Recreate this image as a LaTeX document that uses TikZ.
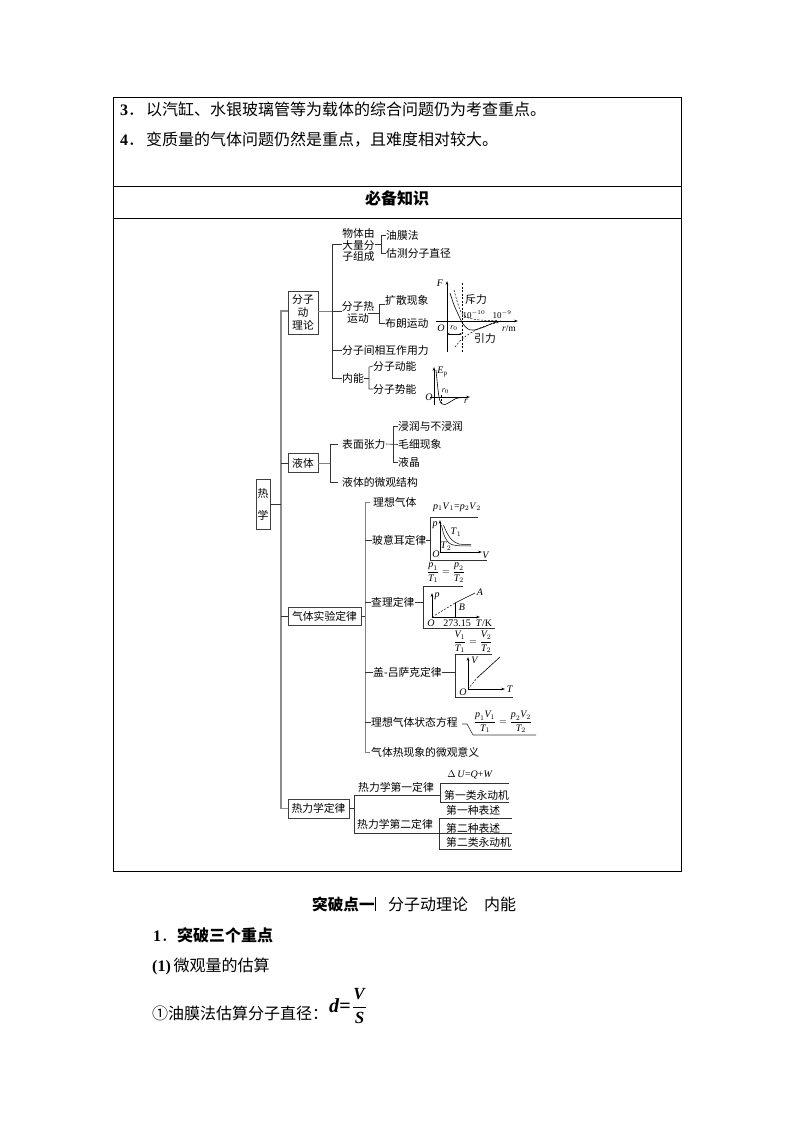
\documentclass[tikz,border=0pt]{standalone}
\usetikzlibrary{arrows.meta}
\usepackage{amsmath}
\usepackage{fontspec}
\setmainfont{Liberation Serif}
\newfontfamily\cjk{Noto Sans CJK SC}
\newcommand{\iv}[1]{\textit{#1}}
\newcommand{\bv}[1]{\textbf{\textit{#1}}}
\newcommand{\latb}[1]{{\fontfamily{\rmdefault}\selectfont\textbf{#1}}}
\begin{document}
\begin{tikzpicture}[x=1pt,y=-1pt,
  body/.style={font=\fontsize{16}{18}\selectfont\cjk,inner sep=0pt,anchor=west},
  lab/.style={font=\fontsize{10.8}{12}\selectfont\cjk,inner sep=0pt,anchor=west,text height=9.6pt,text depth=1pt},
  formula/.style={font=\fontsize{10}{11}\selectfont,inner sep=0pt},
  curvelabel/.style={font=\fontsize{10}{11}\selectfont,inner sep=0pt},
  rootbox/.style={draw=black!75,line width=.7pt,font=\fontsize{10.8}{13}\selectfont\cjk,inner sep=0pt,align=center},
  grule/.style={draw=black,line width=.6pt},
  conn/.style={draw=black!80,line width=.6pt},
  trunkline/.style={draw=black!45,line width=1.6pt},
  midline/.style={draw=black!50,line width=1pt},
  axisline/.style={draw=black,line width=.55pt,-{Stealth[length=4pt,width=2.6pt]}},
  dashcurve/.style={draw=black,line width=.5pt,dash pattern=on 2pt off 1.5pt},
  solidcurve/.style={draw=black,line width=.6pt}]
\useasboundingbox (0,0) rectangle (794,1123);
\fill[white] (0,0) rectangle (794,1123);

% table
\draw[grule] (113,97) rectangle (681,871);
\draw[grule] (113,186) -- (681,186);
\draw[grule] (113,218) -- (681,218);
\node[body] (l3) at (120,109) {\latb{3}．\hspace{2pt}以汽缸、水银玻璃管等为载体的综合问题仍为考查重点。};
\node[body] (l4) at (120,140) {\latb{4}．\hspace{2pt}变质量的气体问题仍然是重点，且难度相对较大。};
\node[body,anchor=center,font=\fontsize{16}{18}\selectfont\cjk\bfseries] (bb) at (397,198) {必备知识};

% root and level-one boxes
\node[rootbox,minimum width=14pt,minimum height=50pt] (re) at (263,504) {热\\[9pt]学};
\node[rootbox,minimum width=30pt,minimum height=43pt] (fz) at (303,312.5) {分子\\动\\理论};
\node[rootbox,minimum width=30pt,minimum height=19pt] (yt) at (303,463) {液体};
\node[rootbox,minimum width=73pt,minimum height=18pt,line width=1pt] (qt) at (324.5,616) {气体实验定律};
\node[rootbox,minimum width=61pt,minimum height=19pt] (rl) at (318.5,808.5) {热力学定律};

\coordinate (trunkx) at (281,500);
\draw[trunkline] (fz.west|-0,311) -- (281,311) |- (rl.west);
\draw[conn] (yt.west) -- (yt.west-|trunkx);
\draw[conn] (qt.west) -- (qt.west-|trunkx);
\draw[conn] (re.east) -- (re.east-|trunkx);

% molecular theory
\node[lab,anchor=center,align=center,font=\fontsize{10.8}{11.7}\selectfont\cjk,text height=,text depth=] (wt) at (358.5,245) {物体由\\大量分\\子组成};
\node[lab] (ym) at (386,235) {油膜法};
\node[lab] (gc) at (386,253) {估测分子直径};
\node[lab,anchor=center,align=center,font=\fontsize{10.8}{11.7}\selectfont\cjk,text height=,text depth=] (fr) at (358,312.5) {分子热\\运动};
\node[lab] (ks) at (385,300) {扩散现象};
\node[lab] (bl) at (385,323) {布朗运动};
\node[lab] (xh) at (342,350) {分子间相互作用力};
\node[lab] (nn) at (342,378) {内能};
\node[lab] (dn) at (373,366) {分子动能};
\node[lab] (sn) at (373,389) {分子势能};
\draw[midline] (fz.east|-0,311) -- (331.5,311);
\draw[conn] (332,244) -- ++(10,0);
\draw[conn] (332,244) |- (nn.west);
\draw[conn] (xh.west) -- ++(-10,0);
\draw[conn] (331.5,311) -- (342,311);
\draw[conn] (375,244) -- ++(6,0);
\draw[conn] (ym.west) -- ++(-5,0) |- (gc.west);
\draw[conn] (368,313) -- (379,313);
\draw[conn] (ks.west) ++(0,4) -- ++(-6,0) |- (bl.west);
\draw[conn] (nn.east) -- ++(5,0);
\draw[conn] (dn.west) -- ++(-4,1) |- (sn.west);

% F-r graph
\coordinate (fo) at (447,321);
\draw[axisline] (fo|-0,352) -- (447,281);
\draw[axisline] (436,321) -- (518,321);
\draw[dashcurve] (462,283) -- (462,353);
\draw[solidcurve] plot[smooth] coordinates {(450,293) (454,305) (459,316) (463,324) (468,329) (474,330) (484,327) (493,323) (501,321)};
\draw[dashcurve] plot[smooth] coordinates {(454,290) (457,301) (461,312) (467,317.5) (480,320) (497,320.5)};
\draw[dashcurve] plot[smooth] coordinates {(455,347) (461,340) (469,334) (480,328) (490,324.5) (500,322)};
\draw[line width=.45pt,{Stealth[length=2.5pt,width=2pt]}-{Stealth[length=2.5pt,width=2pt]}] (447,334) -- (462,334);
\node[curvelabel] (fF) at (440,283.5) {\iv{F}};
\node[curvelabel] (fO) at (441,328) {\iv{O}};
\node[curvelabel,font=\fontsize{8}{9}\selectfont] (fr0) at (454,328.5) {\iv{r}$_0$};
\node[lab] (cl) at (465,299) {斥力};
\node[curvelabel,font=\fontsize{9}{10}\selectfont] (e1) at (474,315) {10$^{-10}$};
\node[curvelabel,font=\fontsize{9}{10}\selectfont] (e2) at (502,314.5) {10$^{-9}$};
\node[curvelabel,font=\fontsize{9.5}{10}\selectfont] (rm) at (509,328) {\iv{r}/m};
\node[lab] (yl) at (474,338) {引力};

% Ep-r graph
\draw[axisline] (434,405) -- (434,367);
\draw[axisline] (430,397) -- (470,397);
\draw[solidcurve] plot[smooth] coordinates {(436,370) (437.5,385) (439,397) (441,403) (445,404.5) (450,402) (456,398.5) (464,397.3)};
\draw[dashcurve] (441,395) -- (441,403);
\node[curvelabel] (eE) at (442.5,372) {\iv{E}$_{\text{p}}$};
\node[curvelabel] (eO) at (429,397) {\iv{O}};
\node[curvelabel,font=\fontsize{8}{9}\selectfont] (er0) at (445.5,391.5) {\iv{r}$_0$};
\node[curvelabel,font=\fontsize{9.5}{10}\selectfont] (er) at (466,401) {\iv{r}};

% liquid
\node[lab] (bm) at (342,444) {表面张力};
\node[lab] (jr) at (398,426) {浸润与不浸润};
\node[lab] (mx) at (398,444.5) {毛细现象};
\node[lab] (yj) at (398,462) {液晶};
\node[lab] (wg) at (342,482) {液体的微观结构};
\draw[midline] (yt.east) -- ++(12,0);
\draw[conn] (bm.west) ++(-4,0) -- ++(-8,0) |- ([xshift=-4pt]wg.west);
\draw[conn] (bm.east) -- (mx.west);
\draw[conn] (jr.west) -- ++(-5,0) |- (yj.west);

% gas laws
\node[lab] (lx) at (373,502) {理想气体};
\node[lab] (by) at (372,540) {玻意耳定律};
\node[lab] (cz) at (371,602) {查理定律};
\node[lab] (gl) at (373,672) {盖-吕萨克定律};
\node[lab] (zt) at (371,722) {理想气体状态方程};
\node[lab] (rx) at (371,752) {气体热现象的微观意义};
\draw[conn] (qt.east) -- ++(4,0);
\draw[midline,line width=.7pt] ([xshift=-3pt]lx.west) -- (365,502) |- ([xshift=-1pt]rx.west);
\draw[conn] (365,540) -- (by.west);
\draw[conn] (365,602) -- (cz.west);
\draw[conn] (365,672) -- (gl.west);
\draw[conn] (365,722) -- (zt.west);

% Boyle
\node[formula] (bf) at (457,507) {\iv{p}$_1$\iv{V}$_1$=\iv{p}$_2$\iv{V}$_2$};
\draw[conn] (478,517) -- (430,517) -- (430,560) -- (487,560);
\draw[conn] (by.east) -- (430,540);
\draw[axisline] (440,552) -- (440,520);
\draw[axisline] (440,552) -- (482,552);
\draw[solidcurve,line width=.5pt] plot[smooth] coordinates {(441.5,525) (444,535) (449,543) (456,545.5) (471,546)};
\draw[solidcurve,line width=.5pt] plot[smooth] coordinates {(443.5,525) (447,533) (452,540) (459,544) (471,544.5)};
\node[curvelabel] (bp) at (435,525) {\iv{p}};
\node[curvelabel] (bO) at (436,554) {\iv{O}};
\node[curvelabel] (bV) at (486,555) {\iv{V}};
\node[curvelabel] (bT1) at (456,532) {\iv{T}$_1$};
\node[curvelabel] (bT2) at (446,546) {\iv{T}$_2$};

% Charles
\node[formula] (cf) at (446,573) {$\dfrac{\iv{p}_1}{\iv{T}_1}=\dfrac{\iv{p}_2}{\iv{T}_2}$};
\draw[conn] (463,586) -- (423,586) -- (423,628) -- (495,628);
\draw[conn] (416,602) -- (423,602);
\draw[conn] (cz.east) -- (416,602);
\draw[axisline] (432,617) -- (432,593);
\draw[axisline] (432,617) -- (480,617);
\draw[dashcurve] (432,617) -- (455,603);
\draw[solidcurve] (455,603) -- (475,593);
\draw[solidcurve] (455,603) -- (455,617);
\node[curvelabel] (cp) at (437,596) {\iv{p}};
\node[curvelabel] (cA) at (480,592) {\iv{A}};
\node[curvelabel] (cB) at (462,607) {\iv{B}};
\node[curvelabel] (cO) at (431,623) {\iv{O}};
\node[curvelabel] (c27) at (457,623) {273.15};
\node[curvelabel] (cTK) at (484,623) {\iv{T}/K};

% Gay-Lussac
\node[formula] (gf) at (473,642) {$\dfrac{\iv{V}_1}{\iv{T}_1}=\dfrac{\iv{V}_2}{\iv{T}_2}$};
\draw[conn] (492,654) -- (455,654) -- (455,697) -- (513,697);
\draw[conn] (gl.east) -- (455,672);
\draw[axisline] (468,689) -- (468,657);
\draw[axisline] (468,689) -- (505,689);
\draw[dashcurve] (468,689) -- (477,678);
\draw[solidcurve] (477,678) -- (500,657);
\node[curvelabel] (gV) at (475,660) {\iv{V}};
\node[curvelabel] (gT) at (510,689) {\iv{T}};
\node[curvelabel] (gO) at (463,692) {\iv{O}};

% state equation
\node[formula] (sf) at (503,722) {$\dfrac{\iv{p}_1\iv{V}_1}{\iv{T}_1}=\dfrac{\iv{p}_2\iv{V}_2}{\iv{T}_2}$};
\draw[conn] (462,724) -- (467,724) -- (473,735) -- (536,735);

% thermodynamics
\coordinate (lawx) at (354,800);
\node[lab] (d1) at (358,787) {热力学第一定律};
\node[lab] (d2) at (357,824) {热力学第二定律};
\node[formula,font=\fontsize{10}{11}\selectfont] (du) at (470,775) {$\Delta$\,\iv{U}=\iv{Q}+\iv{W}};
\node[lab] (y1) at (444,795) {第一类永动机};
\node[lab] (s1) at (446,810) {第一种表述};
\node[lab] (s2) at (446,828) {第二种表述};
\node[lab] (y2) at (446,842) {第二类永动机};
\draw[conn] (rl.east) -- (rl.east-|lawx);
\draw[conn] (512,833) -- (354,833) |- (440,795);
\draw[conn] (509,783) -- (440,783) -- (440,802) -- (509,802);
\draw[conn] (512,818) -- (439,818) -- (439,849) -- (512,849);

% text below the table
\node[body,font=\fontsize{15.6}{18}\selectfont\cjk\bfseries] (tp) at (312,904) {突破点一};
\draw[line width=.5pt] (375,897) -- (375,911);
\node[body] (tt) at (388,904) {分子动理论　内能};
\node[body] (h1) at (153,935) {\latb{1}．{\bfseries 突破三个重点}};
\node[body] (h2) at (152,966) {\latb{(1)}\,微观量的估算};
\node[body] (h3) at (152,1013) {①油膜法估算分子直径：};
\node[font=\fontsize{20}{22}\selectfont,inner sep=0pt,anchor=west] (fm) at (329,1006) {\bv{d}\textbf{=}};
\node[font=\fontsize{17}{18}\selectfont,inner sep=0pt] (ff) at (359.5,1006) {$\dfrac{\bv{V}}{\bv{S}}$};
\end{tikzpicture}
\end{document}
